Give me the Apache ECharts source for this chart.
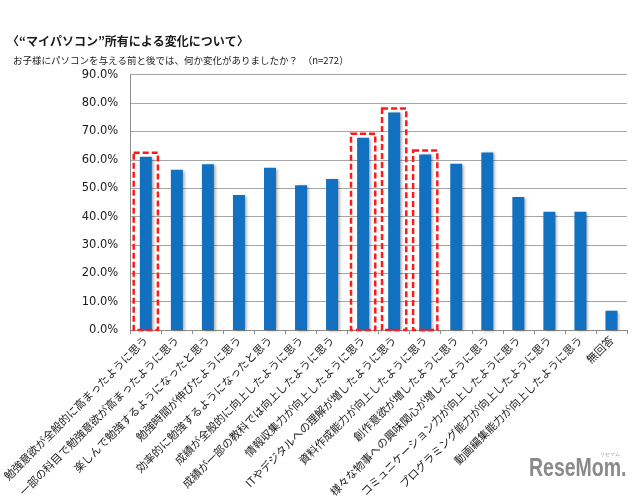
<!DOCTYPE html>
<html><head><meta charset="utf-8">
<script src="https://cdn.jsdelivr.net/npm/echarts@6/dist/echarts.min.js"></script>
<style>html,body{margin:0;padding:0;background:#fff}#c{width:640px;height:503px}</style>
</head><body><div id="c"></div>
<script>
var titleText = '〈“マイパソコン”所有による変化について〉';
var subtitleText = 'お子様にパソコンを与える前と後では、何か変化がありましたか？　（n=272）';
var categories = [
  '勉強意欲が全般的に高まったように思う',
  '一部の科目で勉強意欲が高まったように思う',
  '楽しんで勉強するようになったと思う',
  '勉強時間が伸びたように思う',
  '効率的に勉強するようになったと思う',
  '成績が全般的に向上したように思う',
  '成績が一部の教科では向上したように思う',
  '情報収集力が向上したように思う',
  'ITやデジタルへの理解が増したように思う',
  '資料作成能力が向上したように思う',
  '創作意欲が増したように思う',
  '様々な物事への興味関心が増したように思う',
  'コミュニケーション力が向上したように思う',
  'プログラミング能力が向上したように思う',
  '動画編集能力が向上したように思う',
  '無回答'
];
var values = [61.1, 56.5, 58.4, 47.6, 57.2, 51.0, 53.2, 67.8, 76.7, 61.9, 58.6, 62.6, 46.9, 41.7, 41.7, 6.8];
var highlighted = [0, 7, 8, 9];
var yTicks = [0, 10, 20, 30, 40, 50, 60, 70, 80, 90];

var boxData = highlighted.map(function (i) { return [i, values[i]]; });

var chart = echarts.init(document.getElementById('c'));
chart.setOption({
  animation: false,
  textStyle: { fontFamily: '"Noto Sans CJK JP", "DejaVu Sans", sans-serif' },
  title: [
    { text: titleText, left: 2, top: 30, textStyle: { fontSize: 12, fontWeight: 'bold', color: '#1a1a1a', fontFamily: '"Noto Sans CJK JP", sans-serif' } },
    { text: subtitleText, left: 8, top: 51, textStyle: { fontSize: 9.5, fontWeight: 'normal', color: '#1a1a1a', fontFamily: '"Noto Sans CJK JP", sans-serif' } }
  ],
  grid: { left: 124, right: 13, top: 74.7, bottom: 173, containLabel: false },
  xAxis: {
    type: 'category',
    data: categories,
    axisLine: { lineStyle: { color: '#8c8c8c' } },
    axisTick: { show: true, alignWithLabel: false, length: 4, lineStyle: { color: '#8c8c8c' } },
    axisLabel: { interval: 0, rotate: 45, fontSize: 11, color: '#1a1a1a', margin: 8, fontFamily: '"Noto Sans CJK JP", sans-serif' }
  },
  yAxis: {
    type: 'value', min: yTicks[0], max: yTicks[yTicks.length - 1], interval: 10,
    axisLine: { show: true, lineStyle: { color: '#8c8c8c' } },
    axisTick: { show: false },
    splitLine: { lineStyle: { color: '#a6a6a6', width: 1 } },
    axisLabel: { formatter: function (v) { return v.toFixed(1) + '%'; }, fontSize: 11.5, color: '#1a1a1a', margin: 12, fontFamily: '"DejaVu Sans", sans-serif' }
  },
  series: [
    {
      type: 'bar', data: values, barWidth: 12,
      itemStyle: { color: '#1170c0', shadowColor: 'rgba(0,0,0,0.35)', shadowBlur: 3, shadowOffsetX: 2, shadowOffsetY: 1 },
      z: 2
    },
    {
      type: 'custom', data: boxData, z: 3,
      renderItem: function (params, api) {
        var idx = api.value(0), v = api.value(1);
        var top = api.coord([idx, v]);
        var bottom = api.coord([idx, 0]);
        var w = api.size([1, 0])[0] * 0.78;
        var y0 = top[1] - 4;
        return {
          type: 'rect',
          shape: { x: top[0] - w / 2, y: y0, width: w, height: bottom[1] - y0 },
          style: { fill: 'none', stroke: '#ff1a1a', lineWidth: 2.5, lineDash: [6, 3] }
        };
      }
    }
  ],
  graphic: [
    { type: 'text', x: 529, y: 457, scaleX: 0.78, style: { text: 'ReseMom.', fontSize: 25, fontWeight: 'bold', fill: '#8a8a8a', fontFamily: '"Liberation Sans", sans-serif' } },
    { type: 'text', x: 600, y: 452, style: { text: 'リセマム', fontSize: 5, fill: '#8a8a8a' } }
  ]
});
</script></body></html>
